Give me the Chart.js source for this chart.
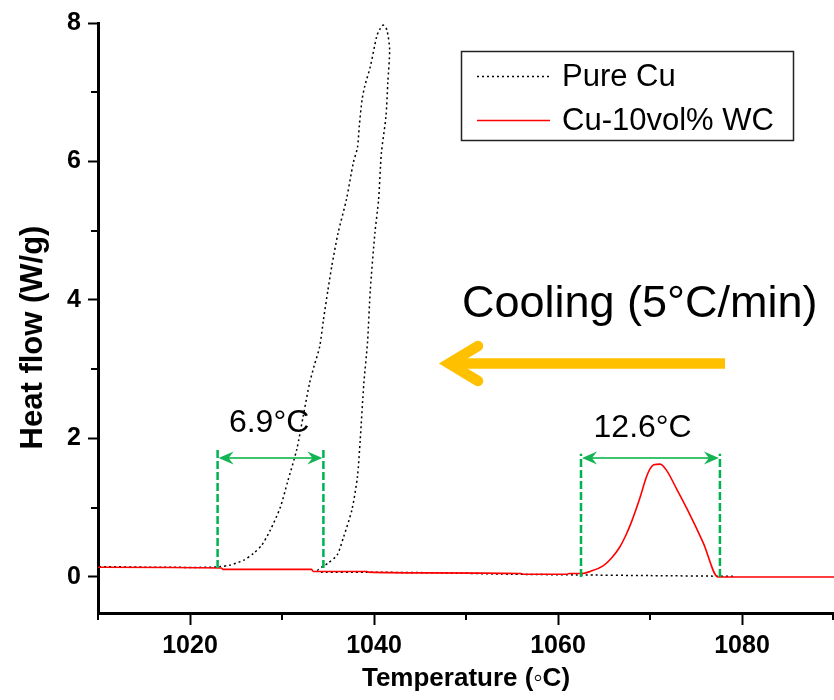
<!DOCTYPE html>
<html>
<head>
<meta charset="utf-8">
<script src="https://cdn.jsdelivr.net/npm/chart.js@4/dist/chart.umd.min.js"></script>
<style>
html,body{margin:0;padding:0;background:#fff;}
#wrap{width:834px;height:700px;}
</style>
</head>
<body>
<div id="wrap"><canvas id="c" width="834" height="700"></canvas></div>
<script>
const FONT = '"Liberation Sans", Arial, Helvetica, sans-serif';

// ---- data ----
const seriesLabels = ['Pure Cu', 'Cu-10vol% WC'];

// Pure Cu cooling curve, in time order (temperature rises during recalescence -> loop)
const pureCuTemp = [1079,1070,1062,1055,1047,1039,1034.3,1033.9,1035.0,1036.0,1036.7,1037.6,1038.2,1038.5,1038.9,1039.3,1039.6,1040.1,1040.5,1040.8,1041.3,1041.5,1041.7,1041.4,1041.0,1040.6,1040.3,1039.6,1039.0,1038.7,1038.4,1038.2,1037.75,1037.0,1036.1,1035.4,1035.0,1034.5,1034.1,1033.5,1033.0,1032.3,1031.6,1030.6,1029.8,1028.7,1027.8,1026.9,1025.8,1024.3,1023.3,1022.5,1017,1010];
const pureCuFlow = [0.01,0.02,0.03,0.04,0.06,0.07,0.07,0.10,0.20,0.32,0.58,0.97,1.45,1.98,2.80,3.40,4.15,4.97,5.45,6.12,6.65,7.14,7.62,7.90,7.97,7.90,7.81,7.37,7.09,6.89,6.51,6.20,5.98,5.45,4.97,4.48,4.15,3.71,3.33,3.05,2.80,2.32,1.84,1.37,1.00,0.67,0.46,0.34,0.24,0.17,0.15,0.14,0.14,0.15];

// Cu-10vol% WC cooling curve
const wcTemp = [1010,1023.4,1023.6,1033.2,1033.4,1039.2,1039.4,1046,1056,1056.2,1061,1061.2,1062.6,1063.5,1064.9,1065.8,1066.7,1067.4,1068.0,1068.9,1069.6,1070.0,1070.4,1071.1,1071.8,1072.9,1074.0,1075.8,1077.4,1080,1090];
const wcFlow = [0.14,0.13,0.11,0.11,0.08,0.08,0.07,0.06,0.05,0.04,0.04,0.05,0.05,0.08,0.16,0.27,0.43,0.61,0.80,1.14,1.44,1.56,1.62,1.63,1.54,1.27,0.99,0.49,0.00,0.00,0.00];

// axis ticks
const xMajorTicks = [1020, 1040, 1060, 1080];
const xMinorTicks = [1010, 1030, 1050, 1070, 1090];
const yMajorTicks = [0, 2, 4, 6, 8];
const yMinorTicks = [1, 3, 5, 7];
const xTitle = 'Temperature (\u25E6C)';
const yTitle = 'Heat flow (W/g)';

// undercooling spans
const spanLabels = ['6.9\u00B0C', '12.6\u00B0C'];
const spanStart = [1023.0, 1062.5];
const spanEnd = [1034.5, 1077.6];
const coolingText = 'Cooling (5\u00B0C/min)';

const toPts = (xs, ys) => xs.map((v, i) => ({x: v, y: ys[i]}));

// ---- drawing of annotations / legend ----
function greenHead(ctx, tipX, tipY, dir) {
  const L = 15, W = 6.5, N = 10;
  ctx.beginPath();
  ctx.moveTo(tipX, tipY);
  ctx.lineTo(tipX - dir * L, tipY - W);
  ctx.lineTo(tipX - dir * N, tipY);
  ctx.lineTo(tipX - dir * L, tipY + W);
  ctx.closePath();
  ctx.fill();
}

const decor = {
  id: 'decor',
  afterDatasetsDraw(chart) {
    const ctx = chart.ctx;
    const xs = chart.scales.x, ys = chart.scales.y;
    const ca = chart.chartArea;
    ctx.save();

    // minor ticks
    ctx.strokeStyle = '#000';
    ctx.lineWidth = 2;
    xMinorTicks.forEach(v => {
      let px = Math.min(Math.round(xs.getPixelForValue(v)), ca.right - 1);
      ctx.beginPath(); ctx.moveTo(px, ca.bottom); ctx.lineTo(px, ca.bottom + 7); ctx.stroke();
    });
    yMinorTicks.forEach(v => {
      const py = Math.round(ys.getPixelForValue(v));
      ctx.beginPath(); ctx.moveTo(ca.left, py); ctx.lineTo(ca.left - 7, py); ctx.stroke();
    });

    // undercooling spans
    const spanTop = [1.84, 1.78];
    const spanBase = [0.13, 0.0];
    const arrowY = [1.72, 1.72];
    const labelX = [1028.6, 1069.2];
    const labelY = [2.10, 2.02];
    for (let i = 0; i < spanStart.length; i++) {
      const x1 = xs.getPixelForValue(spanStart[i]);
      const x2 = xs.getPixelForValue(spanEnd[i]);
      const yt = ys.getPixelForValue(spanTop[i]);
      const yb = ys.getPixelForValue(spanBase[i]);
      ctx.strokeStyle = 'rgb(0,178,80)';
      ctx.lineWidth = 2.5;
      ctx.setLineDash([8, 3]);
      [x1, x2].forEach(px => { ctx.beginPath(); ctx.moveTo(px, yb); ctx.lineTo(px, yt); ctx.stroke(); });
      ctx.setLineDash([]);
      const ay = ys.getPixelForValue(arrowY[i]);
      ctx.strokeStyle = 'rgb(60,195,110)';
      ctx.lineWidth = 2;
      ctx.beginPath(); ctx.moveTo(x1 + 8, ay); ctx.lineTo(x2 - 8, ay); ctx.stroke();
      ctx.fillStyle = 'rgb(20,180,85)';
      greenHead(ctx, x1 + 1, ay, -1);
      greenHead(ctx, x2 - 1, ay, 1);
      ctx.fillStyle = '#000';
      ctx.font = '32px ' + FONT;
      ctx.textAlign = 'center';
      ctx.textBaseline = 'alphabetic';
      ctx.fillText(spanLabels[i], xs.getPixelForValue(labelX[i]), ys.getPixelForValue(labelY[i]));
    }

    // cooling text and orange arrow
    ctx.fillStyle = '#000';
    ctx.font = '45px ' + FONT;
    ctx.textAlign = 'left';
    ctx.fillText(coolingText, 462, 317);

    ctx.strokeStyle = '#FFC000';
    ctx.lineWidth = 10.5;
    ctx.lineCap = 'butt';
    ctx.beginPath(); ctx.moveTo(449, 363.5); ctx.lineTo(725, 363.5); ctx.stroke();
    ctx.lineCap = 'round';
    ctx.lineJoin = 'miter';
    ctx.beginPath(); ctx.moveTo(478, 346); ctx.lineTo(449, 363.5); ctx.lineTo(478, 381); ctx.stroke();

    // legend
    ctx.lineCap = 'butt';
    ctx.strokeStyle = '#222';
    ctx.lineWidth = 1.5;
    ctx.strokeRect(461.5, 51.5, 332, 89);
    const ds = chart.data.datasets;
    const rowY = [76.5, 120.5];
    ds.forEach((d, i) => {
      ctx.strokeStyle = d.borderColor;
      ctx.lineWidth = d.borderWidth;
      ctx.setLineDash(d.borderDash || []);
      ctx.beginPath(); ctx.moveTo(477, rowY[i]); ctx.lineTo(550, rowY[i]); ctx.stroke();
      ctx.setLineDash([]);
      ctx.fillStyle = '#000';
      ctx.font = '31px ' + FONT;
      ctx.textAlign = 'left';
      ctx.textBaseline = 'middle';
      ctx.fillText(d.label, 562, rowY[i] + 1);
    });

    // y axis title
    ctx.save();
    ctx.translate(41.5, 337.5);
    ctx.rotate(-Math.PI / 2);
    ctx.fillStyle = '#000';
    ctx.font = 'bold 31px ' + FONT;
    ctx.textAlign = 'center';
    ctx.textBaseline = 'alphabetic';
    ctx.fillText(yTitle, 0, 0);
    ctx.restore();

    ctx.restore();
  }
};

new Chart(document.getElementById('c'), {
  type: 'scatter',
  data: {
    datasets: [
      {
        label: seriesLabels[0],
        data: toPts(pureCuTemp, pureCuFlow),
        showLine: true,
        borderColor: '#000000',
        borderWidth: 1.5,
        borderDash: [2, 3],
        pointRadius: 0,
        tension: 0.25,
        order: 1
      },
      {
        label: seriesLabels[1],
        data: toPts(wcTemp, wcFlow),
        showLine: true,
        borderColor: '#ff0000',
        borderWidth: 1.6,
        pointRadius: 0,
        cubicInterpolationMode: 'monotone',
        tension: 0.4,
        order: 0
      }
    ]
  },
  options: {
    responsive: false,
    animation: false,
    devicePixelRatio: 1,
    layout: { padding: { top: 23, right: 0, left: 0, bottom: 0 } },
    plugins: { legend: { display: false }, tooltip: { enabled: false } },
    scales: {
      x: {
        type: 'linear',
        min: 1010,
        max: 1090,
        afterBuildTicks: s => { s.ticks = xMajorTicks.map(v => ({ value: v })); },
        afterFit: s => { s.height = 87; },
        ticks: {
          color: '#000',
          font: { family: FONT, size: 25, weight: 'bold' },
          padding: 6,
          maxRotation: 0,
          autoSkip: false,
          callback: v => String(v)
        },
        grid: { drawOnChartArea: false, drawTicks: true, tickLength: 12, tickWidth: 2, tickColor: '#000' },
        border: { color: '#000', width: 3 },
        title: {
          display: true,
          text: xTitle,
          color: '#000',
          font: { family: FONT, size: 26, weight: 'bold' },
          padding: { top: 0, bottom: 6 }
        }
      },
      y: {
        type: 'linear',
        min: -0.52,
        max: 8,
        afterBuildTicks: s => { s.ticks = yMajorTicks.map(v => ({ value: v })); },
        afterFit: s => { s.width = 98; },
        ticks: {
          color: '#000',
          font: { family: FONT, size: 25, weight: 'bold' },
          padding: 7,
          autoSkip: false,
          callback: v => String(v)
        },
        grid: { drawOnChartArea: false, drawTicks: true, tickLength: 10, tickWidth: 2, tickColor: '#000' },
        border: { color: '#000', width: 3 },
        title: { display: false }
      }
    }
  },
  plugins: [decor]
});
</script>
</body>
</html>
